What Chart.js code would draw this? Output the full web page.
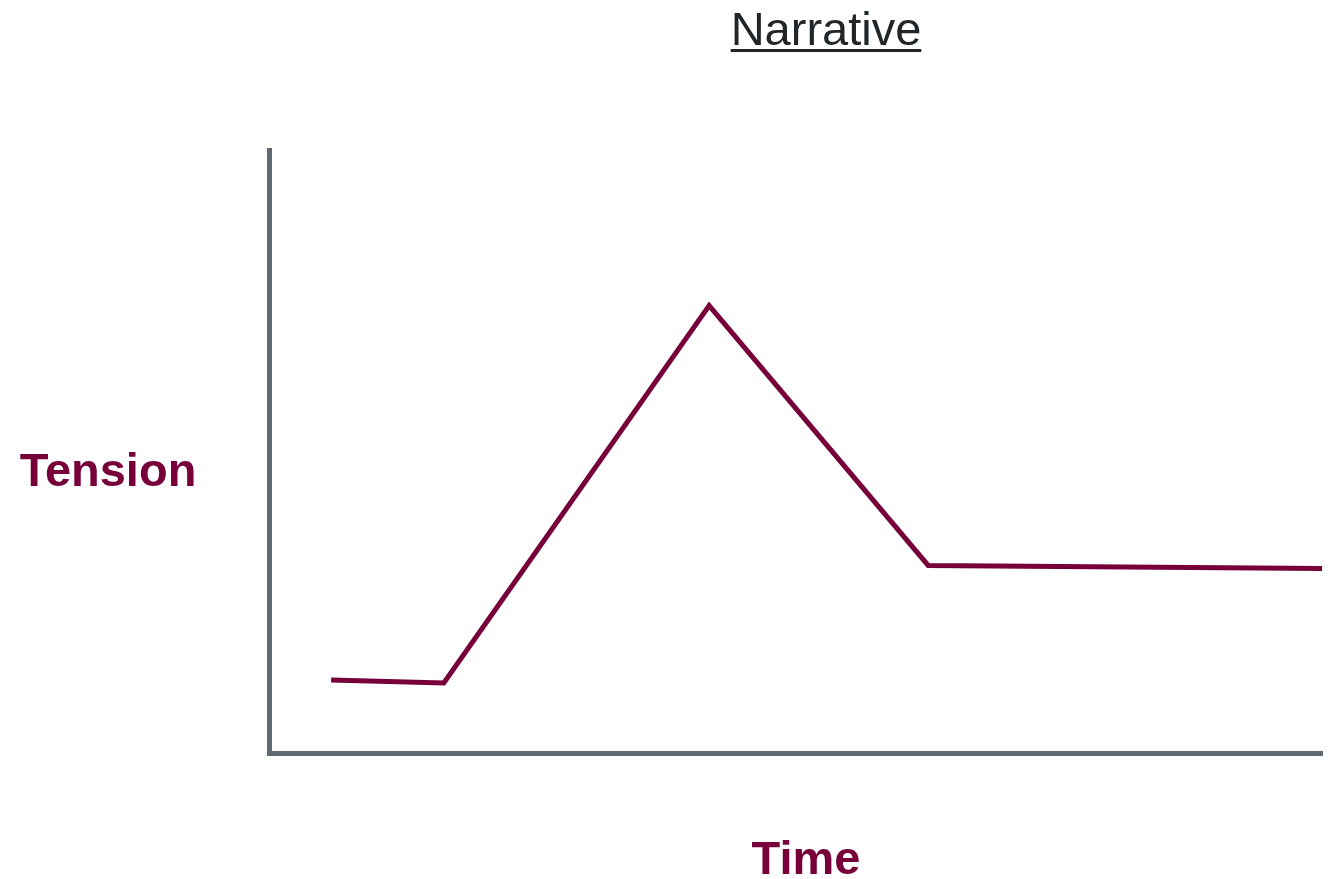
<!DOCTYPE html>
<html>
<head>
<meta charset="utf-8">
<script src="https://cdn.jsdelivr.net/npm/chart.js@4/dist/chart.umd.min.js"></script>
<style>
  html, body { margin: 0; padding: 0; background: #fff; }
  #wrap { position: relative; width: 1332px; height: 879px; }
</style>
</head>
<body>
<div id="wrap"><canvas id="narrativeChart"></canvas></div>
<script>
// Dati della curva narrativa (tempo in %, tensione in %)
const timePoints = [5.9, 16.6, 41.8, 62.6, 100];
const tensionValues = [12.1, 11.6, 74.2, 31.1, 30.6];

const chartTitle = "Narrative";
const xAxisLabel = "Time";
const yAxisLabel = "Tension";

const maroon = "#77003a";
const axisGrey = "#5f6a72";

// Disegna titolo sottolineato ed etichette degli assi
const labelsPlugin = {
  id: "narrativeLabels",
  afterDraw(chart) {
    const ctx = chart.ctx;
    ctx.save();
    ctx.textAlign = "center";
    ctx.textBaseline = "alphabetic";

    ctx.fillStyle = "#222629";
    ctx.font = "47px 'Liberation Sans', Arial, sans-serif";
    ctx.fillText(chartTitle, 826, 45);
    const w = ctx.measureText(chartTitle).width;
    ctx.fillRect(826 - w / 2, 49, w, 3);

    ctx.fillStyle = maroon;
    ctx.font = "bold 47px 'Liberation Sans', Arial, sans-serif";
    ctx.fillText(yAxisLabel, 108, 486);
    ctx.fillText(xAxisLabel, 806, 874);
    ctx.restore();
  },
};

const ctx = document.getElementById("narrativeChart").getContext("2d");
new Chart(ctx, {
  type: "line",
  data: {
    datasets: [
      {
        label: "Tension",
        data: timePoints.map((t, i) => ({ x: t, y: tensionValues[i] })),
        borderColor: maroon,
        borderWidth: 5,
        borderJoinStyle: "miter",
        pointRadius: 0,
        tension: 0,
        fill: false,
      },
    ],
  },
  options: {
    responsive: true,
    maintainAspectRatio: false,
    animation: false,
    layout: {
      padding: { left: 261, right: 10, top: 150, bottom: 118 },
    },
    scales: {
      x: {
        type: "linear",
        min: 0,
        max: 100,
        grid: { display: false },
        ticks: { display: false },
        border: { display: true, color: axisGrey, width: 5 },
      },
      y: {
        type: "linear",
        min: 0,
        max: 100,
        grid: { display: false },
        ticks: { display: false },
        border: { display: true, color: axisGrey, width: 5 },
      },
    },
    plugins: {
      legend: { display: false },
      tooltip: { enabled: false },
      title: { display: false },
    },
  },
  plugins: [labelsPlugin],
});
</script>
</body>
</html>
